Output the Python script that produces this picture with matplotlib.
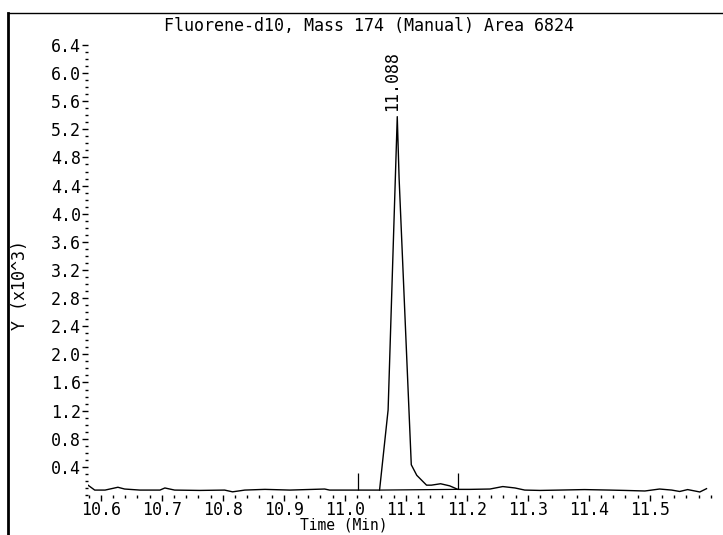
import numpy as np
import matplotlib.pyplot as plt
from matplotlib.ticker import MultipleLocator
from matplotlib.lines import Line2D

# chromatogram trace, time in min, abundance in thousands
time = [10.579, 10.590, 10.607, 10.628, 10.639, 10.664, 10.697, 10.705, 10.721,
        10.762, 10.803, 10.816, 10.836, 10.869, 10.910, 10.967, 10.975, 11.016,
        11.057, 11.071, 11.086, 11.089, 11.109, 11.118, 11.126, 11.134, 11.142,
        11.157, 11.172, 11.180, 11.185, 11.205, 11.238, 11.259, 11.279, 11.295,
        11.320, 11.352, 11.393, 11.434, 11.459, 11.492, 11.516, 11.536, 11.549,
        11.562, 11.574, 11.582, 11.593]
signal = [0.14, 0.07, 0.07, 0.11, 0.085, 0.07, 0.07, 0.10, 0.07,
          0.065, 0.07, 0.045, 0.07, 0.08, 0.07, 0.085, 0.07, 0.07,
          0.07, 1.21, 5.38, 4.51, 0.43, 0.28, 0.21, 0.14, 0.14,
          0.16, 0.13, 0.10, 0.08, 0.08, 0.085, 0.12, 0.10, 0.07,
          0.065, 0.07, 0.077, 0.07, 0.065, 0.057, 0.085, 0.07, 0.05,
          0.077, 0.057, 0.043, 0.09]

# manual integration limits and baseline
int_start = 11.021
int_end = 11.185
base_time = [11.057, 11.185]
base_val = [0.07, 0.08]
marker_top = 0.31

peak_rt = 11.088
peak_height = 5.38
title = "Fluorene-d10, Mass 174 (Manual) Area 6824"

mono = "DejaVu Sans Mono"
fs = 12

fig = plt.figure(figsize=(7.23, 5.35), dpi=100)
ax = fig.add_axes([88 / 723, 40 / 535, 624 / 723, 455 / 535])

ax.plot(time, signal, color="black", lw=1.0)
ax.plot(base_time, base_val, color="black", lw=0.9)
ax.vlines([int_start, int_end], [0.07, 0.08], marker_top, color="black", lw=0.9)

ax.text(peak_rt - 0.01, peak_height + 0.08, "{0:.3f}".format(peak_rt),
        rotation=90, ha="center", va="bottom", fontsize=fs, family=mono)

ax.set_xlim(10.579, 11.602)
ax.set_ylim(0, 6.47)
for s in ax.spines.values():
    s.set_visible(False)

ax.xaxis.set_minor_locator(MultipleLocator(0.02))
ax.yaxis.set_minor_locator(MultipleLocator(0.1))
xt = np.arange(10.6, 11.55, 0.1)
yt = np.arange(0.4, 6.45, 0.4)
ax.set_xticks(xt)
ax.set_xticklabels(["{0:.1f}".format(t) for t in xt])
ax.set_yticks(yt)
ax.set_yticklabels(["{0:.1f}".format(v) for v in yt])

ax.tick_params(axis="x", which="major", direction="out", length=4, width=1, pad=0)
ax.tick_params(axis="x", which="minor", direction="out", length=2.5, width=1)
ax.tick_params(axis="y", which="major", direction="out", length=4, width=1, pad=1)
ax.tick_params(axis="y", which="minor", direction="out", length=2, width=1)
for lab in ax.get_xticklabels() + ax.get_yticklabels():
    lab.set_family(mono)
    lab.set_fontsize(fs)

fig.text(369 / 723, 1 - 26 / 535, title, ha="center", va="center",
         fontsize=fs, family=mono)
fig.text(344 / 723, 2 / 535, "Time (Min)", ha="center", va="bottom",
         fontsize=10.5, family=mono)
fig.text(20 / 723, 1 - 285 / 535, "Y (x10^3)", ha="center", va="center",
         rotation=90, fontsize=fs, family=mono)

# scan frame lines
fig.add_artist(Line2D([8 / 723, 1], [1 - 12.5 / 535] * 2, color="black", lw=1.0,
                      transform=fig.transFigure))
fig.add_artist(Line2D([8 / 723] * 2, [0, 1 - 12.5 / 535], color="black", lw=2.0,
                      transform=fig.transFigure))

fig.savefig("out.png", dpi=100)
